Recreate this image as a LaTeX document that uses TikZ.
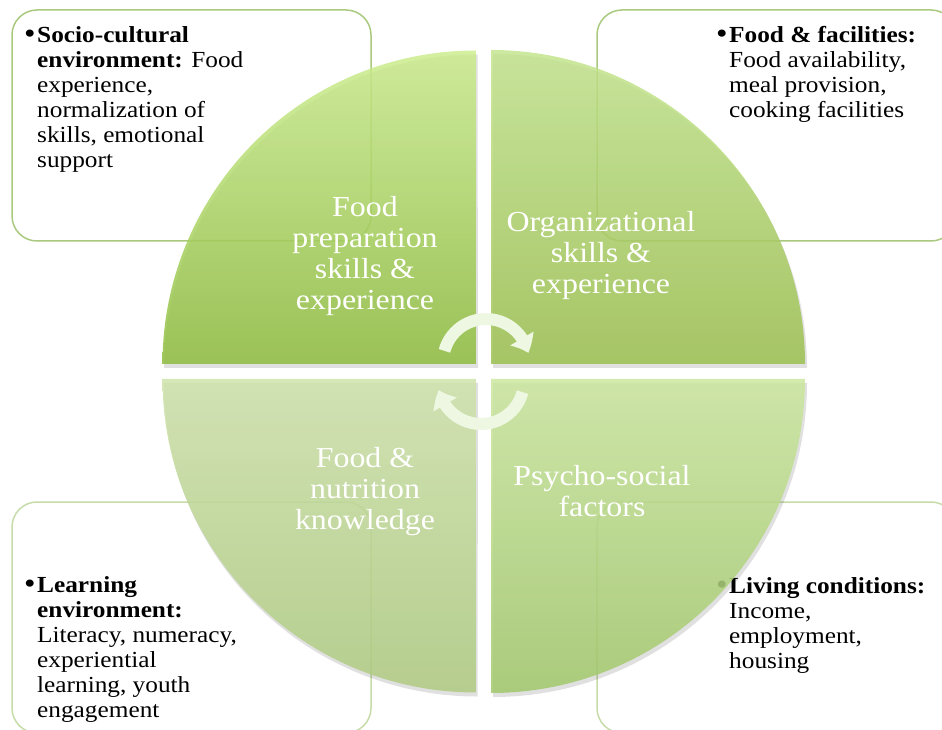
\documentclass[tikz,border=0pt]{standalone}
\usepackage{fontspec}
\setmainfont[FakeStretch=1.1]{Liberation Serif}
\usetikzlibrary{arrows.meta,bending}

\definecolor{boxline}{HTML}{A9C97E}
\definecolor{boxlinelight}{HTML}{C6DCA8}
\definecolor{tltop}{HTML}{CCED8F}
\definecolor{tlbot}{HTML}{8FBD3F}
\definecolor{trtop}{HTML}{C4E58F}
\definecolor{trbot}{HTML}{9CC150}
\definecolor{bltop}{HTML}{CFE3AB}
\definecolor{blbot}{HTML}{AFCB81}
\definecolor{brtop}{HTML}{CBE79F}
\definecolor{brbot}{HTML}{A2C86B}
\definecolor{cyclearrow}{HTML}{EEF7E2}

\newcommand{\dotmark}{\llap{\raisebox{-1.5pt}{\scalebox{1.3}{•}}\hspace{1.5pt}}}

\tikzset{
  infobox/.style={draw=boxline, line width=1.5pt, rounded corners=25pt},
  infotext/.style={anchor=north west, align=left, inner sep=0pt, font=\fontsize{23}{25}\selectfont},
  quadtext/.style={align=center, text=white, font=\fontsize{29}{31}\selectfont},
  quadshadow/.style={fill=black, fill opacity=0.12},
  turnarrow/.style={line width=12pt, cyclearrow, -{Triangle[width=26pt,length=16pt,bend]}},
}

\begin{document}
\begin{tikzpicture}[x=1pt,y=1pt]
  \useasboundingbox (0,0) rectangle (942,729);
  \clip (0,0) rectangle (942,729);

  % outer boxes
  \draw[infobox] (12,488) rectangle (371,719);
  \draw[infobox] (597,488) rectangle (956,719);
  \draw[infobox, draw=boxlinelight] (12,-4) rectangle (371,227);
  \draw[infobox, draw=boxlinelight] (597,-4) rectangle (956,227);

  \node[infotext] (socio) at (37,703) {\dotmark\textbf{Socio-cultural}\\ \textbf{environment:} Food\\ experience,\\ normalization of\\ skills, emotional\\ support};
  \node[infotext] (facil) at (729,703) {\dotmark\textbf{Food \& facilities:}\\ Food availability,\\ meal provision,\\ cooking facilities};
  \node[infotext] (learn) at (37,153) {\dotmark\textbf{Learning}\\ \textbf{environment:}\\ Literacy, numeracy,\\ experiential\\ learning, youth\\ engagement};
  \node[infotext] (living) at (729,152) {\dotmark\textbf{Living conditions:}\\ Income,\\ employment,\\ housing};

  % quadrants
  \fill[quadshadow] (478,361) -- (164,361) arc[start angle=180, end angle=90, radius=313.5] -- cycle;
  \fill[quadshadow] (493,361) -- (493,675) arc[start angle=90, end angle=0, radius=314] -- cycle;
  \fill[quadshadow] (478,346) -- (164,346) arc[start angle=180, end angle=270, radius=313.5] -- cycle;
  \fill[quadshadow] (493,346) -- (807,346) arc[start angle=0, end angle=-90, radius=314] -- cycle;

  \shade[top color=tltop, bottom color=tlbot, fill opacity=0.85] (476,365) -- (162.5,365) arc[start angle=180, end angle=90, radius=313.5] -- cycle;
  \shade[top color=trtop, bottom color=trbot, fill opacity=0.85] (491,365) -- (491,679) arc[start angle=90, end angle=0, radius=314] -- cycle;
  \shade[top color=bltop, bottom color=blbot, fill opacity=0.85] (476,350) -- (162.5,350) arc[start angle=180, end angle=270, radius=313.5] -- cycle;
  \shade[top color=brtop, bottom color=brbot, fill opacity=0.85] (491,350) -- (805,350) arc[start angle=0, end angle=-90, radius=314] -- cycle;

  \node[quadtext] (prep) at (365,473) {Food\\ preparation\\ skills \&\\ experience};
  \node[quadtext] (orga) at (601,473) {Organizational\\ skills \&\\ experience};
  \node[quadtext] (know) at (365,237) {Food \&\\ nutrition\\ knowledge};
  \node[quadtext] (psych) at (602,238) {Psycho-social\\ factors};

  % cycle arrows
  \draw[turnarrow] (486,367) ++(165:43) arc[start angle=165, end angle=12, radius=43];
  \draw[turnarrow] (481,348) ++(-15:43) arc[start angle=-15, end angle=-168, radius=43];

\end{tikzpicture}
\end{document}
